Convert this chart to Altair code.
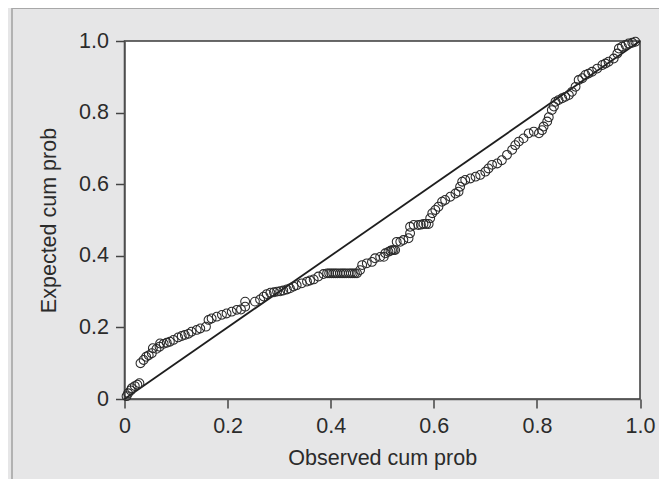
import altair as alt
import pandas as pd

# Observed cumulative probability (x) and expected cumulative probability (y)
obs_cum = [
    0.004, 0.007, 0.012, 0.014, 0.020, 0.025, 0.029,
    0.031, 0.037, 0.042, 0.047, 0.053, 0.055, 0.062, 0.068, 0.069, 0.076,
    0.082, 0.088, 0.095, 0.104, 0.111, 0.117, 0.124, 0.130, 0.140, 0.147,
    0.158, 0.163, 0.169, 0.179, 0.189, 0.198, 0.208, 0.218, 0.226, 0.234,
    0.234, 0.253, 0.263, 0.270, 0.276, 0.283, 0.290, 0.296, 0.302, 0.308,
    0.315, 0.321, 0.328, 0.334, 0.344, 0.354, 0.360, 0.367, 0.376, 0.386,
    0.393, 0.397, 0.401, 0.405, 0.409, 0.413, 0.418, 0.422, 0.426, 0.430,
    0.435, 0.439, 0.443, 0.447, 0.451,
    0.457, 0.461, 0.470, 0.480, 0.486, 0.496, 0.503, 0.506, 0.512, 0.516,
    0.519, 0.522, 0.525, 0.528, 0.535, 0.541, 0.551, 0.554, 0.554, 0.561,
    0.570, 0.575, 0.580, 0.585, 0.590, 0.593, 0.597, 0.603, 0.609, 0.616,
    0.622, 0.632, 0.642, 0.648, 0.651, 0.655, 0.661, 0.671, 0.681, 0.690,
    0.700, 0.706, 0.713, 0.723, 0.732, 0.742, 0.752, 0.758, 0.765, 0.774,
    0.784, 0.794, 0.804, 0.810, 0.813, 0.820, 0.823, 0.829, 0.833, 0.836,
    0.842, 0.849, 0.855, 0.862, 0.868, 0.875, 0.881, 0.888, 0.894, 0.900,
    0.907, 0.917, 0.927, 0.933, 0.939, 0.949, 0.956, 0.959, 0.965, 0.972,
    0.978, 0.985, 0.991,
]
exp_cum = [
    0.008, 0.016, 0.024, 0.030, 0.036, 0.040, 0.044,
    0.100, 0.109, 0.118, 0.122, 0.128, 0.142, 0.140, 0.146, 0.155, 0.154,
    0.157, 0.160, 0.165, 0.172, 0.176, 0.179, 0.182, 0.188, 0.193, 0.197,
    0.202, 0.221, 0.225, 0.230, 0.235, 0.239, 0.244, 0.249, 0.250, 0.258,
    0.272, 0.272, 0.278, 0.286, 0.293, 0.297, 0.298, 0.300, 0.301, 0.303,
    0.306, 0.309, 0.314, 0.318, 0.323, 0.328, 0.331, 0.334, 0.342, 0.349,
    0.351, 0.351, 0.351, 0.351, 0.351, 0.351, 0.351, 0.351, 0.351, 0.351,
    0.351, 0.351, 0.351, 0.351, 0.351,
    0.360, 0.374, 0.379, 0.383, 0.393, 0.397, 0.397, 0.407, 0.411, 0.414,
    0.416, 0.416, 0.416, 0.439, 0.439, 0.444, 0.449, 0.463, 0.481, 0.486,
    0.486, 0.487, 0.489, 0.489, 0.489, 0.505, 0.519, 0.528, 0.537, 0.551,
    0.556, 0.565, 0.574, 0.579, 0.593, 0.607, 0.612, 0.616, 0.621, 0.626,
    0.635, 0.644, 0.654, 0.658, 0.667, 0.682, 0.696, 0.709, 0.719, 0.728,
    0.742, 0.747, 0.742, 0.751, 0.761, 0.775, 0.787, 0.807, 0.817, 0.830,
    0.835, 0.840, 0.844, 0.849, 0.858, 0.872, 0.891, 0.896, 0.905, 0.909,
    0.914, 0.923, 0.933, 0.937, 0.942, 0.951, 0.965, 0.979, 0.984, 0.989,
    0.993, 0.995, 0.998,
]

ref_x = [0, 1]
ref_y = [0, 1]
tick_vals = [0, 0.2, 0.4, 0.6, 0.8, 1.0]

W, H = 515.5, 358
PAD = {"left": 116.5, "top": 33, "right": 19, "bottom": 80}
FONT = "Liberation Sans"

pts = pd.DataFrame({"obs": obs_cum, "exp": exp_cum})
ref = pd.DataFrame({"x": ref_x, "y": ref_y})

label_expr = "datum.value == 0 ? '0' : format(datum.value, '.1f')"

x_enc = alt.X(
    "obs:Q",
    scale=alt.Scale(domain=[0, 1], nice=False, zero=False),
    axis=alt.Axis(
        title="Observed cum prob", values=tick_vals, labelExpr=label_expr,
        labelFlush=False, labelOverlap=False, grid=False,
        tickSize=9, labelPadding=7, titlePadding=11,
    ),
)
y_enc = alt.Y(
    "exp:Q",
    scale=alt.Scale(domain=[0, 1], nice=False, zero=False),
    axis=alt.Axis(
        title="Expected cum prob", values=tick_vals, labelExpr=label_expr,
        labelFlush=False, labelOverlap=False, grid=False,
        tickSize=9, labelPadding=7, titlePadding=18,
    ),
)

points = alt.Chart(pts).mark_point(
    shape="circle", filled=False, size=78, strokeWidth=1.05,
    color="#2a2a2a", opacity=1,
).encode(x=x_enc, y=y_enc)

diag = alt.Chart(ref).mark_line(color="#1e1e1e", strokeWidth=1.8).encode(
    x=alt.X("x:Q"), y=alt.Y("y:Q")
)

# decorative frame lines of the grey panel (left and top)
frame_left = alt.Chart(ref).mark_rule(color="#a8a8a8", strokeWidth=1.2).encode(
    x=alt.value(-112.5), y=alt.value(-33), y2=alt.value(H + PAD["bottom"])
)
frame_top = alt.Chart(ref).mark_rule(color="#a8a8a8", strokeWidth=1.2).encode(
    y=alt.value(-32.5), x=alt.value(-112.5), x2=alt.value(W + PAD["right"])
)

chart = (
    alt.layer(diag, points, frame_left, frame_top)
    .properties(
        width=W, height=H, background="#e6e6e7",
        autosize=alt.AutoSizeParams(type="none"),
        padding=PAD,
    )
    .configure_view(fill="white", stroke="#3a3a3a", strokeWidth=1.5)
    .configure_axis(
        labelFont=FONT, titleFont=FONT, labelFontSize=21.5, titleFontSize=21.5,
        labelColor="#2b2b2b", titleColor="#2b2b2b", titleFontWeight="normal",
        domainColor="#555555", domainWidth=1.5, tickColor="#444444",
        tickWidth=1.5,
    )
)

chart.save("out.html", embed_options={"renderer": "svg", "actions": False})
